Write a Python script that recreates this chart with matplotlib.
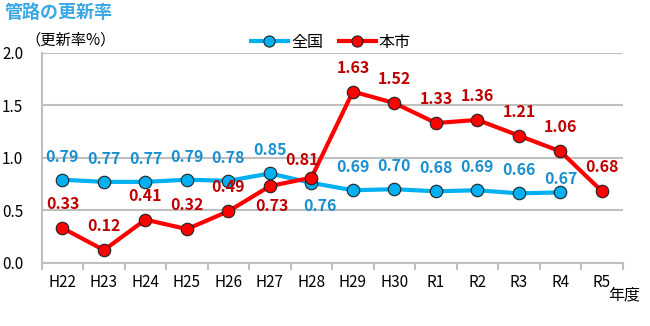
import matplotlib
matplotlib.use("Agg")
import matplotlib.pyplot as plt
import numpy as np
from matplotlib.lines import Line2D

plt.rcParams['font.family'] = ['Noto Sans CJK JP', 'DejaVu Sans']

categories = ["H22", "H23", "H24", "H25", "H26", "H27", "H28", "H29", "H30", "R1", "R2", "R3", "R4", "R5"]
national = [0.79, 0.77, 0.77, 0.79, 0.78, 0.85, 0.76, 0.69, 0.70, 0.68, 0.69, 0.66, 0.67, None]
city = [0.33, 0.12, 0.41, 0.32, 0.49, 0.73, 0.81, 1.63, 1.52, 1.33, 1.36, 1.21, 1.06, 0.68]
yticks = [0.0, 0.5, 1.0, 1.5, 2.0]

blue_line = "#00B0F0"
blue_text = "#1A8FD0"
red_line = "#FF0000"
red_text = "#C00000"
grid_c = "#BFBFBF"

fig = plt.figure(figsize=(6.5, 3.26), dpi=100)
ax = fig.add_axes([41.7/650, 1-262.7/326, (622.7-41.7)/650, (262.7-52.7)/326])

x = np.arange(len(categories))
nat_x = [i for i, v in enumerate(national) if v is not None]
nat_y = [v for v in national if v is not None]

ax.plot(nat_x, nat_y, color=blue_line, lw=3.0, marker='o', ms=9,
        mfc=blue_line, mec='#222222', mew=0.8, zorder=3)
ax.plot(x, city, color=red_line, lw=3.0, marker='o', ms=9,
        mfc=red_line, mec='#222222', mew=0.8, zorder=4)

ax.set_xlim(-0.5, len(categories) - 0.5)
ax.set_ylim(0, 2.0)
ax.set_yticks(yticks)
ax.set_yticklabels([f"{v:.1f}" for v in yticks])
ax.yaxis.grid(True, color=grid_c, lw=1.5)
ax.set_axisbelow(True)
ax.tick_params(axis='y', length=0, pad=28.5, labelsize=11)
for lab in ax.get_yticklabels():
    lab.set_horizontalalignment('left')

ax.set_xticks(np.arange(-0.5, len(categories), 1.0))
ax.set_xticklabels([])
ax.set_xticks(x, minor=True)
ax.set_xticklabels(categories, minor=True)
ax.tick_params(axis='x', which='major', length=5, width=1.5, color=grid_c, direction='out')
ax.tick_params(axis='x', which='minor', length=0, pad=8, labelsize=11)

for s in ['top', 'right']:
    ax.spines[s].set_visible(False)
for s in ['left', 'bottom']:
    ax.spines[s].set_color(grid_c)
    ax.spines[s].set_linewidth(1.5)

# labels
nat_off = {6: (8, -23), 12: (0, 13)}
city_off = {5: (2, -20), 6: (-9, 18)}
for i, v in zip(nat_x, nat_y):
    dx, dy = nat_off.get(i, (0, 23))
    ax.annotate(f"{v:.2f}", (i, v), xytext=(dx, dy), textcoords='offset pixels',
                ha='center', va='center', color=blue_text, fontsize=11.5, fontweight='bold', zorder=5)
for i, v in enumerate(city):
    dx, dy = city_off.get(i, (0, 24))
    ax.annotate(f"{v:.2f}", (i, v), xytext=(dx, dy), textcoords='offset pixels',
                ha='center', va='center', color=red_text, fontsize=11.5, fontweight='bold', zorder=5)

fig.text(5/650, 1-13/326, "管路の更新率", color="#3BA7E3", fontsize=13, fontweight='bold',
         ha='left', va='center')
fig.text(25/650, 1-40/326, "（更新率%）", fontsize=11, ha='left', va='center')
fig.text(608/650, 1-295/326, "年度", fontsize=11.5, ha='left', va='center')

handles = [Line2D([0], [0], color=blue_line, lw=3, marker='o', ms=8, mfc=blue_line, mec='#222222', mew=0.8),
           Line2D([0], [0], color=red_line, lw=3, marker='o', ms=8, mfc=red_line, mec='#222222', mew=0.8)]
fig.legend(handles, ["全国", "本市"], loc='center', bbox_to_anchor=(331/650, 1-42/326), ncol=2,
           frameon=False, fontsize=11.5, handlelength=2.3, handletextpad=0.2, columnspacing=1.0)

fig.savefig("out.png", dpi=100)
